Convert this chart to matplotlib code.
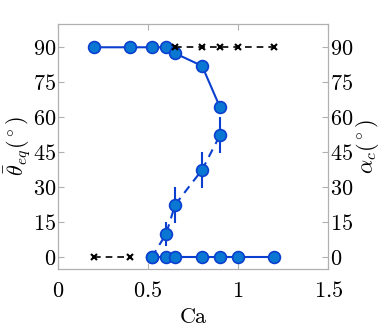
import matplotlib
matplotlib.use('Agg')
import matplotlib.pyplot as plt
import numpy as np

plt.rcParams['mathtext.fontset'] = 'cm'
plt.rcParams['font.family'] = 'serif'
plt.rcParams['font.serif'] = ['cmr10', 'DejaVu Serif']
plt.rcParams['axes.formatter.use_mathtext'] = True

# theta_eq, upper and lower branches (solid)
ca_up = [0.2, 0.4, 0.52, 0.6, 0.65, 0.8, 0.9]
th_up = [90, 90, 90, 90, 87.4, 82, 64.2]
ca_low = [0.52, 0.6, 0.65, 0.8, 0.9, 1.0, 1.2]
th_low = [0, 0, 0, 0, 0, 0, 0]

# alpha_c with error bars (dashed)
ca_alpha = [0.52, 0.6, 0.65, 0.8, 0.9]
alpha = [0, 10, 22.5, 37.5, 52.4]
alpha_err = [0, 5, 7.6, 7.7, 7.8]

# black crosses
ca_x0 = [0.2, 0.4]
x0 = [0, 0]
ca_x90 = [0.65, 0.8, 0.9, 1.0, 1.2]
x90 = [90, 90, 90, 90, 90]

xticks = [0, 0.5, 1, 1.5]
xtick_labels = ['$0$', '$0.5$', '$1$', '$1.5$']
yticks = [0, 15, 30, 45, 60, 75, 90]
ytick_labels = ['$%d$' % v for v in yticks]

line_c = '#0a3fcf'
fill_c = '#0a78d2'
grey = '#b0b0b0'

fig = plt.figure(figsize=(3.82, 3.28), dpi=100)
ax = fig.add_axes([0.152, 0.18, 0.707, 0.747])
ax2 = ax.twinx()

ms = 8.5
ax.plot(ca_up, th_up, '-o', color=line_c, lw=1.5, ms=ms, mfc=fill_c, mec=line_c, mew=1.2, zorder=3)
ax.plot(ca_low, th_low, '-o', color=line_c, lw=1.5, ms=ms, mfc=fill_c, mec=line_c, mew=1.2, zorder=3)
eb = ax2.errorbar(ca_alpha, alpha, yerr=alpha_err, fmt='--o', color=line_c, lw=1.5, ms=ms, mfc=fill_c,
                  mec=line_c, mew=1.2, elinewidth=1.5, capsize=0, zorder=3)
eb[0].set_dashes((4, 3))
ax2.plot(ca_x0, x0, '--x', color='black', lw=1.2, ms=5, mew=1.5, dashes=(4, 3))
ax2.plot(ca_x90, x90, '--x', color='black', lw=1.2, ms=5, mew=1.5, dashes=(4, 3))

for a in (ax, ax2):
    a.set_xlim(0, 1.5)
    a.set_ylim(-5, 100)
    for s in a.spines.values():
        s.set_color(grey)
        s.set_linewidth(0.8)

ax.set_xticks(xticks)
ax.set_xticklabels(xtick_labels)
ax.set_yticks(yticks)
ax.set_yticklabels(ytick_labels)
ax2.set_yticks(yticks)
ax2.set_yticklabels(ytick_labels)

ax.tick_params(axis='x', direction='in', length=4, color=grey, labelsize=16, top=True, pad=9)
ax.tick_params(axis='y', direction='in', length=4, color=grey, labelsize=16, pad=1.5)
ax2.tick_params(axis='y', direction='in', length=4, color=grey, labelsize=16, pad=1.5)

ax.set_xlabel('Ca', fontsize=16, labelpad=4)
ax.set_ylabel(r'$\bar{\theta}_{eq}(^\circ)$', fontsize=16, labelpad=0)
ax2.set_ylabel(r'$\alpha_c(^\circ)$', fontsize=16, labelpad=0)

fig.savefig('out.png', dpi=100)
